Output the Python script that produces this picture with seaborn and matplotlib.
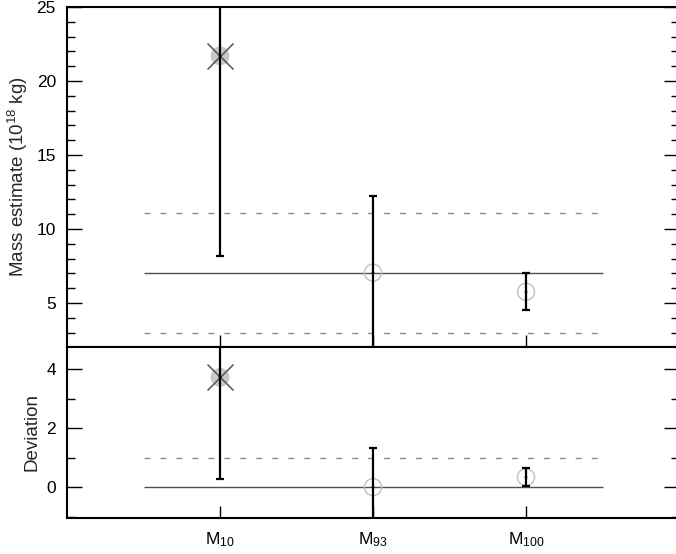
import numpy as np
import pandas as pd
import matplotlib
matplotlib.use("Agg")
import matplotlib.pyplot as plt
import seaborn as sns
from matplotlib.ticker import MultipleLocator

# ---- data ----
categories = ["M10", "M93", "M100"]
tick_labels = [r"$\mathregular{M_{10}}$", r"$\mathregular{M_{93}}$", r"$\mathregular{M_{100}}$"]
mass_values = [21.7, 7.05, 5.76]
mass_errors = [13.5, 5.2, 1.24]
dev_values = [3.73, 0.0, 0.34]
dev_errors = [3.44, 1.34, 0.31]
outlier = [True, False, False]
mass_mean = 7.05
mass_band = [3.0, 11.1]
dev_mean = 0.0
dev_band = [1.0]

sns.set_style("ticks")
plt.rcParams["font.family"] = ["Liberation Sans", "DejaVu Sans"]
plt.rcParams["mathtext.default"] = "regular"

W, H = 676, 554
fig = plt.figure(figsize=(W / 100, H / 100), dpi=100)
left = 67 / W
right_px = 679
wid = (right_px - 67) / W
ax1 = fig.add_axes([left, (H - 347) / H, wid, 340 / H])
ax2 = fig.add_axes([left, (H - 517.5) / H, wid, 170.5 / H])

x = np.arange(1, len(categories) + 1)
df = pd.DataFrame({"x": x, "mass": mass_values, "mass_err": mass_errors,
                   "dev": dev_values, "dev_err": dev_errors, "outlier": outlier})


def draw(ax, ycol, ecol, mean, band):
    ax.hlines([mean], 0.5, 3.5, color="#505050", lw=1.0, zorder=1)
    ax.hlines(band, 0.5, 3.5, color="#8a8a8a", lw=1.0, linestyles=(0, (4.3, 7.2)), zorder=1)
    out = df[df.outlier]
    ok = df[~df.outlier]
    sns.scatterplot(data=out, x="x", y=ycol, ax=ax, s=185, color="#c8c8c8",
                    edgecolor="none", zorder=2, legend=False)
    sns.scatterplot(data=out, x="x", y=ycol, ax=ax, s=350, marker="x", color="#555555",
                    linewidth=1.1, zorder=3, legend=False)
    sns.scatterplot(data=ok, x="x", y=ycol, ax=ax, s=150, facecolor="none",
                    edgecolor="#c0c0c0", linewidth=1.0, zorder=2, legend=False)
    ax.errorbar(df["x"], df[ycol], yerr=df[ecol], fmt="none", ecolor="black",
                elinewidth=1.6, capsize=3, capthick=1.6, zorder=4)
    sns.scatterplot(data=df, x="x", y=ycol, ax=ax, s=4, color="black",
                    edgecolor="none", zorder=5, legend=False)
    ax.set_xlim(0, 4)
    ax.set_xticks(x)
    ax.set_xlabel("")
    for s in ax.spines.values():
        s.set_linewidth(1.5)
        s.set_color("black")
    ax.tick_params(axis="both", which="both", direction="in", right=True, top=False,
                   labelsize=12.5, colors="black")
    ax.tick_params(axis="y", which="major", length=11, width=1.0, pad=8)
    ax.tick_params(axis="y", which="minor", length=5.5, width=1.0)
    ax.tick_params(axis="x", which="major", length=9, width=1.0, pad=9)


draw(ax1, "mass", "mass_err", mass_mean, mass_band)
ax1.set_ylim(2.03, 25)
ax1.yaxis.set_major_locator(MultipleLocator(5))
ax1.yaxis.set_minor_locator(MultipleLocator(1))
ax1.set_xticklabels([])
ax1.set_ylabel("Mass estimate (10$^{18}$ kg)", fontsize=13.5, labelpad=4.5)

draw(ax2, "dev", "dev_err", dev_mean, dev_band)
ax2.set_ylim(-1.03, 4.76)
ax2.yaxis.set_major_locator(MultipleLocator(2))
ax2.yaxis.set_minor_locator(MultipleLocator(1))
ax2.set_xticklabels(tick_labels)
ax2.set_ylabel("Deviation", fontsize=13.5, labelpad=4.5)

fig.savefig("out.png", dpi=100)
